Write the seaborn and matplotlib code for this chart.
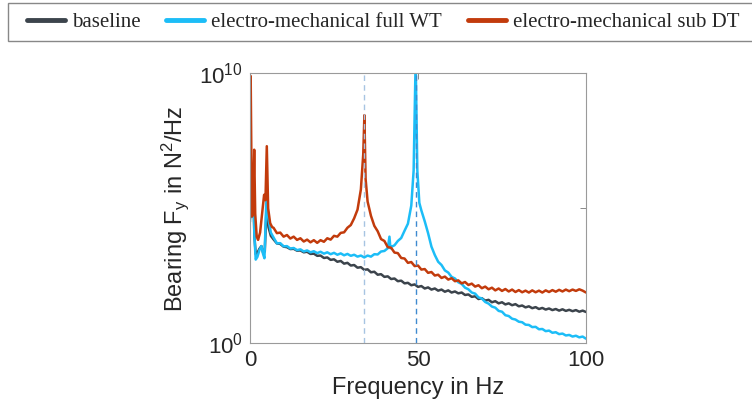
import numpy as np
import pandas as pd
import seaborn as sns
import matplotlib.pyplot as plt
from matplotlib.patches import Rectangle
from matplotlib.ticker import FixedLocator, NullLocator

# bearing force PSD (log10 of N^2/Hz)
freq_base = [0.0, 0.25, 0.5, 0.9, 1.3, 1.7, 2.2, 2.8, 3.4, 3.9, 4.4, 4.9, 5.5, 6.2,
             7, 8, 9, 10, 11, 12, 13, 14, 15, 16, 17, 18, 19, 20, 21, 22, 23, 24,
             25, 26, 27, 28, 29, 30, 31, 32, 33, 34, 35, 36, 37, 38, 39, 40, 41, 42,
             43, 44, 45, 46, 47, 48, 49, 50, 51, 52, 53, 54, 55, 56, 57, 58, 59, 60,
             61, 62, 63, 64, 65, 66, 67, 68, 69, 70, 71, 72, 73, 74, 75, 76, 77, 78,
             79, 80, 81, 82, 83, 84, 85, 86, 87, 88, 89, 90, 91, 92, 93, 94, 95, 96,
             97, 98, 99, 100]
log_base = [4.6, 6.2, 4.7, 6.0, 4.0, 3.3, 3.35, 3.5, 3.6, 3.35, 3.4, 5.0, 4.3, 3.98,
            3.85, 3.70, 3.68, 3.58, 3.56, 3.49, 3.50, 3.43, 3.44, 3.37, 3.39, 3.31, 3.32, 3.24,
            3.25, 3.16, 3.18, 3.09, 3.11, 3.02, 3.05, 2.95, 2.98, 2.88, 2.90, 2.80, 2.82, 2.72,
            2.74, 2.63, 2.65, 2.54, 2.56, 2.46, 2.48, 2.38, 2.40, 2.30, 2.32, 2.22, 2.24, 2.15,
            2.18, 2.09, 2.12, 2.03, 2.07, 1.99, 2.03, 1.95, 1.99, 1.91, 1.96, 1.88, 1.92, 1.85,
            1.88, 1.79, 1.81, 1.72, 1.74, 1.64, 1.67, 1.58, 1.61, 1.52, 1.56, 1.48, 1.52, 1.44,
            1.48, 1.41, 1.45, 1.37, 1.40, 1.33, 1.37, 1.30, 1.34, 1.27, 1.31, 1.25, 1.29, 1.23,
            1.27, 1.21, 1.26, 1.20, 1.24, 1.19, 1.23, 1.17, 1.21, 1.16]

freq_full = [0.0, 0.3, 0.6, 0.9, 1.3, 1.7, 2.2, 2.8, 3.4, 3.9, 4.3, 4.9, 5.5, 6.2,
             7, 8, 9, 10, 11, 12, 13, 14, 15, 16, 17, 18, 19, 20, 21, 22, 23, 24,
             25, 26, 27, 28, 29, 30, 31, 32, 33, 34, 35, 36, 37, 38, 39, 40, 41,
             41.5, 41.8, 42, 43, 44, 45, 46, 47, 48, 48.7, 49.3, 49.8, 50.4, 51, 52,
             53, 54, 55, 56, 57, 58, 59, 60, 61, 62, 63, 64, 65, 66, 67, 68, 69, 70,
             71, 72, 73, 74, 75, 76, 77, 78, 79, 80, 81, 82, 83, 84, 85, 86, 87, 88,
             89, 90, 91, 92, 93, 94, 95, 96, 97, 98, 99, 100]
log_full = [4.5, 6.3, 5.0, 6.5, 4.0, 3.1, 3.2, 3.45, 3.6, 3.3, 3.15, 5.4, 4.6, 4.1,
            3.92, 3.70, 3.71, 3.59, 3.60, 3.51, 3.53, 3.45, 3.48, 3.40, 3.44, 3.37, 3.41, 3.34,
            3.39, 3.32, 3.37, 3.30, 3.35, 3.28, 3.33, 3.26, 3.31, 3.24, 3.28, 3.21, 3.25, 3.18,
            3.25, 3.21, 3.30, 3.29, 3.40, 3.42, 3.52, 3.95, 3.52, 3.57, 3.63, 3.79, 3.90, 4.17,
            4.43, 5.1, 6.4, 10.5, 6.4, 5.2, 4.92, 4.52, 4.08, 3.58, 3.27, 3.02, 2.90, 2.70,
            2.62, 2.46, 2.40, 2.26, 2.20, 2.06, 2.00, 1.88, 1.84, 1.70, 1.66, 1.53, 1.47, 1.36,
            1.32, 1.20, 1.17, 1.04, 1.01, 0.91, 0.88, 0.80, 0.78, 0.69, 0.68, 0.60, 0.61, 0.52,
            0.53, 0.45, 0.47, 0.39, 0.41, 0.34, 0.36, 0.29, 0.31, 0.25, 0.28, 0.22, 0.25, 0.17]

freq_sub = [0.05, 0.2, 0.4, 0.65, 0.95, 1.25, 1.55, 2.0, 2.4, 3.0, 3.6, 4.2, 4.6, 5.0,
            5.4, 6.0, 6.6, 7, 8, 9, 10, 11, 12, 13, 14, 15, 16, 17, 18, 19, 20, 21,
            22, 23, 24, 25, 26, 27, 28, 29, 30, 31, 32, 33, 33.7, 34.05, 34.4, 35, 36,
            37, 38, 39, 40, 41, 42, 43, 44, 45, 46, 47, 48, 49, 50, 51, 52, 53, 54,
            55, 56, 57, 58, 59, 60, 61, 62, 63, 64, 65, 66, 67, 68, 69, 70, 71, 72,
            73, 74, 75, 76, 77, 78, 79, 80, 81, 82, 83, 84, 85, 86, 87, 88, 89, 90,
            91, 92, 93, 94, 95, 96, 97, 98, 99, 100]
log_sub = [7.5, 9.9, 7.0, 4.7, 5.0, 7.17, 4.8, 3.95, 3.83, 4.1, 4.8, 5.5, 5.3, 7.3,
           5.0, 4.45, 4.3, 4.28, 4.08, 4.10, 3.95, 4.01, 3.88, 3.95, 3.83, 3.89, 3.77, 3.84,
           3.74, 3.82, 3.72, 3.82, 3.76, 3.89, 3.84, 3.98, 3.95, 4.09, 4.11, 4.28, 4.38, 4.63,
           4.95, 5.70, 7.0, 8.45, 6.1, 5.25, 4.72, 4.35, 4.15, 3.86, 3.79, 3.56, 3.54, 3.36,
           3.34, 3.16, 3.14, 2.98, 3.01, 2.86, 2.88, 2.73, 2.75, 2.61, 2.64, 2.51, 2.54, 2.42,
           2.47, 2.36, 2.41, 2.30, 2.33, 2.22, 2.27, 2.16, 2.21, 2.10, 2.15, 2.04, 2.10, 2.00,
           2.06, 1.96, 2.03, 1.94, 2.01, 1.92, 1.99, 1.90, 1.97, 1.89, 1.95, 1.88, 1.96, 1.89,
           1.95, 1.88, 1.96, 1.90, 1.97, 1.91, 1.98, 1.92, 1.99, 1.93, 1.99, 1.94, 2.00, 1.95, 1.88]

series_labels = ["baseline", "electro-mechanical full WT", "electro-mechanical sub DT"]
series_colors = ["#3c444c", "#1cbdf7", "#c23b0c"]
resonances = [34.05, 49.3]
resonance_colors = ["#a7c4e2", "#3f8ad0"]

sns.set_theme(style="white")
plt.rcParams["font.family"] = ["Liberation Sans", "DejaVu Sans"]
plt.rcParams["mathtext.fontset"] = "custom"
plt.rcParams["mathtext.rm"] = "Liberation Sans"
plt.rcParams["mathtext.it"] = "Liberation Sans"

W, H = 752, 416
fig = plt.figure(figsize=(W / 100, H / 100), dpi=100)
ax = fig.add_axes([250 / W, 72.7 / H, 336 / W, 270 / H])

for f, v, lab, col in zip([freq_base, freq_full, freq_sub],
                          [log_base, log_full, log_sub],
                          series_labels, series_colors):
    df = pd.DataFrame({"f": f, "psd": np.power(10.0, v)})
    sns.lineplot(data=df, x="f", y="psd", ax=ax, color=col, lw=1.8,
                 estimator=None, sort=False, label=lab)

for fr, c in zip(resonances, resonance_colors):
    ax.axvline(fr, color=c, ls=(0, (4, 3)), lw=1.0)

ax.set_yscale("log")
ax.set_xlim(0, 100)
ax.set_ylim(1, 1e10)
ax.set_xticks([0, 50, 100])
ax.yaxis.set_major_locator(FixedLocator([1, 1e5, 1e10]))
ax.yaxis.set_minor_locator(NullLocator())
ax.set_yticklabels(["$10^{0}$", "", "$10^{10}$"])
ax.tick_params(direction="in", length=4, width=0.6, color="#777777",
               top=True, right=True, labelsize=16, labelcolor="#262626", pad=5)
for s in ax.spines.values():
    s.set_color("#9a9a9a")
    s.set_linewidth(0.8)

ax.set_xlabel("Frequency in Hz", fontsize=17, color="#262626", labelpad=4)
ax.set_ylabel(r"Bearing F$_\mathrm{y}$ in N$^2$/Hz", fontsize=17, color="#262626", labelpad=6)

# legend box runs past the right edge of the figure, as in the source
fig.patches.append(Rectangle((8 / W, 1 - 40.5 / H), 1.0, 37 / H, transform=fig.transFigure,
                             facecolor="white", edgecolor="#888888", lw=1.0, zorder=0))

handles, labels = ax.get_legend_handles_labels()
ax.get_legend().remove()
leg = fig.legend(handles, labels, loc="center left", ncol=3,
                 bbox_to_anchor=(27 / W, 1 - 22.5 / H),
                 frameon=False, prop={"family": "Liberation Serif", "size": 15},
                 handlelength=1.8, handletextpad=0.35, columnspacing=1.25,
                 borderaxespad=0, borderpad=0)
for h in leg.get_lines():
    h.set_linewidth(3.5)

fig.savefig("out.png", dpi=100)
